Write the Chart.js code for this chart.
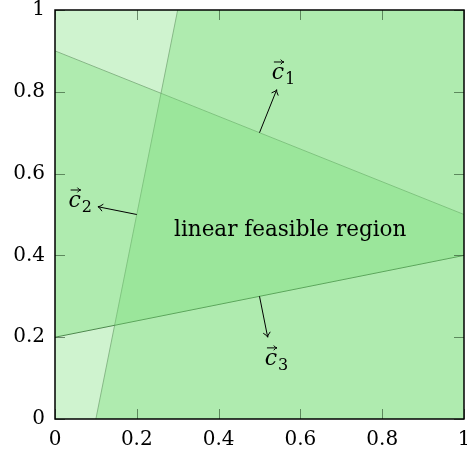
<!DOCTYPE html>
<html>
<head>
<meta charset="utf-8">
<script src="https://cdn.jsdelivr.net/npm/chart.js@4"></script>
<style>
  html, body { margin: 0; padding: 0; background: #fff; }
  #wrap { width: 467px; height: 456px; }
</style>
</head>
<body>
<div id="wrap"><canvas id="chart"></canvas></div>
<script>
// constraint lines (data coordinates)
const line1 = [{ x: 0, y: 0.9 }, { x: 1, y: 0.5 }];
const line2 = [{ x: 0.1, y: 0 }, { x: 0.3, y: 1 }];
const line3 = [{ x: 0, y: 0.2 }, { x: 1, y: 0.4 }];

// ticks
const tickValues = [0, 0.2, 0.4, 0.6, 0.8, 1];
const tickLabels = ['0', '0.2', '0.4', '0.6', '0.8', '1'];

// normal vectors c1..c3: arrow start / end, label position
const arrowFrom = [[0.5, 0.7], [0.2, 0.5], [0.5, 0.3]];
const arrowTo = [[0.542, 0.805], [0.105, 0.519], [0.52, 0.2]];
const arrowLabels = ['1', '2', '3'];
const labelAt = [[0.545, 0.846], [0.048, 0.533], [0.528, 0.147]];

const regionText = 'linear feasible region';
const regionAt = [0.575, 0.462];

const fillColor = 'rgba(118, 222, 118, 0.35)';

Chart.defaults.font.family = '"DejaVu Serif", serif';
Chart.defaults.font.size = 20;
Chart.defaults.color = '#000';

function drawHead(ctx, x0, y0, x1, y1, size) {
    const ang = Math.atan2(y1 - y0, x1 - x0);
    ctx.beginPath();
    ctx.moveTo(x1 + size * Math.cos(ang + 2.5), y1 + size * Math.sin(ang + 2.5));
    ctx.quadraticCurveTo(x1 - 1.5 * Math.cos(ang), y1 - 1.5 * Math.sin(ang), x1, y1);
    ctx.quadraticCurveTo(x1 - 1.5 * Math.cos(ang), y1 - 1.5 * Math.sin(ang),
        x1 + size * Math.cos(ang - 2.5), y1 + size * Math.sin(ang - 2.5));
    ctx.stroke();
}

const annotations = {
    id: 'annotations',
    afterDraw(chart) {
        const { ctx, chartArea: a, scales: { x, y } } = chart;
        ctx.save();

        // inward ticks on all four sides, faint like pgfplots under fills
        const len = 10;
        ctx.strokeStyle = 'rgba(40, 70, 40, 0.6)';
        ctx.lineWidth = 1;
        tickValues.forEach(v => {
            const px = Math.round(x.getPixelForValue(v)) + 0.5;
            const py = Math.round(y.getPixelForValue(v)) + 0.5;
            ctx.beginPath();
            ctx.moveTo(px, a.bottom); ctx.lineTo(px, a.bottom - len);
            ctx.moveTo(px, a.top); ctx.lineTo(px, a.top + len);
            ctx.moveTo(a.left, py); ctx.lineTo(a.left + len, py);
            ctx.moveTo(a.right, py); ctx.lineTo(a.right - len, py);
            ctx.stroke();
        });

        ctx.strokeStyle = '#000';
        ctx.fillStyle = '#000';

        // normal arrows
        arrowFrom.forEach((f, i) => {
            const x0 = x.getPixelForValue(f[0]), y0 = y.getPixelForValue(f[1]);
            const x1 = x.getPixelForValue(arrowTo[i][0]), y1 = y.getPixelForValue(arrowTo[i][1]);
            ctx.beginPath();
            ctx.moveTo(x0, y0);
            ctx.lineTo(x1, y1);
            ctx.stroke();
            drawHead(ctx, x0, y0, x1, y1, 6);
        });

        // vector labels: italic c, arrow accent, subscript
        labelAt.forEach((p, i) => {
            const cx = x.getPixelForValue(p[0]), cy = y.getPixelForValue(p[1]);
            ctx.font = 'italic 22px "DejaVu Serif", serif';
            ctx.textAlign = 'center';
            ctx.textBaseline = 'alphabetic';
            ctx.fillText('c', cx, cy + 6);
            const w = ctx.measureText('c').width;
            ctx.font = '16px "DejaVu Serif", serif';
            ctx.textAlign = 'left';
            ctx.fillText(arrowLabels[i], cx + w / 2 + 1, cy + 11);
            // accent arrow
            const ay = cy - 11;
            ctx.beginPath();
            ctx.moveTo(cx - 4, ay);
            ctx.lineTo(cx + 6, ay);
            ctx.stroke();
            drawHead(ctx, cx - 4, ay, cx + 6, ay, 4);
        });

        ctx.font = '21.5px "DejaVu Serif", serif';
        ctx.textAlign = 'center';
        ctx.textBaseline = 'middle';
        ctx.fillText(regionText, x.getPixelForValue(regionAt[0]), y.getPixelForValue(regionAt[1]));

        // frame
        ctx.lineWidth = 1.5;
        ctx.strokeRect(a.left, a.top, a.right - a.left, a.bottom - a.top);
        ctx.restore();
    }
};

// keep the plot box fixed: no extra room for overhanging tick labels
function noOverhang(s) {
    s.paddingLeft = 0;
    s.paddingRight = 0;
    s.paddingTop = 0;
    s.paddingBottom = 0;
}

const fillBase = { showLine: true, pointRadius: 0, borderWidth: 0, backgroundColor: fillColor };
const lineBase = { showLine: true, pointRadius: 0, borderWidth: 1, fill: false };

new Chart(document.getElementById('chart'), {
    type: 'scatter',
    data: {
        datasets: [
            // half-planes
            { ...fillBase, data: line1, fill: 'start' },
            { ...fillBase, data: [...line2, { x: 1, y: 1 }], fill: 'start' },
            { ...fillBase, data: line3, fill: 'end' },
            // boundary lines
            { ...lineBase, data: line1, borderColor: 'rgba(60, 70, 60, 0.55)' },
            { ...lineBase, data: line2, borderColor: 'rgba(60, 70, 60, 0.55)' },
            { ...lineBase, data: line3, borderColor: 'rgba(20, 40, 20, 0.9)' }
        ]
    },
    options: {
        responsive: true,
        maintainAspectRatio: false,
        animation: false,
        layout: { padding: { top: 10, right: 3, left: 0, bottom: 0 } },
        plugins: {
            legend: { display: false },
            tooltip: { enabled: false }
        },
        scales: {
            x: {
                type: 'linear',
                min: 0,
                max: 1,
                grid: { display: false, drawTicks: false },
                border: { display: false },
                afterBuildTicks: s => { s.ticks = tickValues.map(v => ({ value: v })); },
                afterFit: s => { s.height = 37; noOverhang(s); },
                ticks: {
                    padding: 9,
                    maxRotation: 0,
                    autoSkip: false,
                    callback: (v, i) => tickLabels[i]
                }
            },
            y: {
                type: 'linear',
                min: 0,
                max: 1,
                grid: { display: false, drawTicks: false },
                border: { display: false },
                afterBuildTicks: s => { s.ticks = tickValues.map(v => ({ value: v })); },
                afterFit: s => { s.width = 55; noOverhang(s); },
                ticks: {
                    padding: 10,
                    autoSkip: false,
                    callback: (v, i) => tickLabels[i]
                }
            }
        }
    },
    plugins: [annotations]
});
</script>
</body>
</html>
